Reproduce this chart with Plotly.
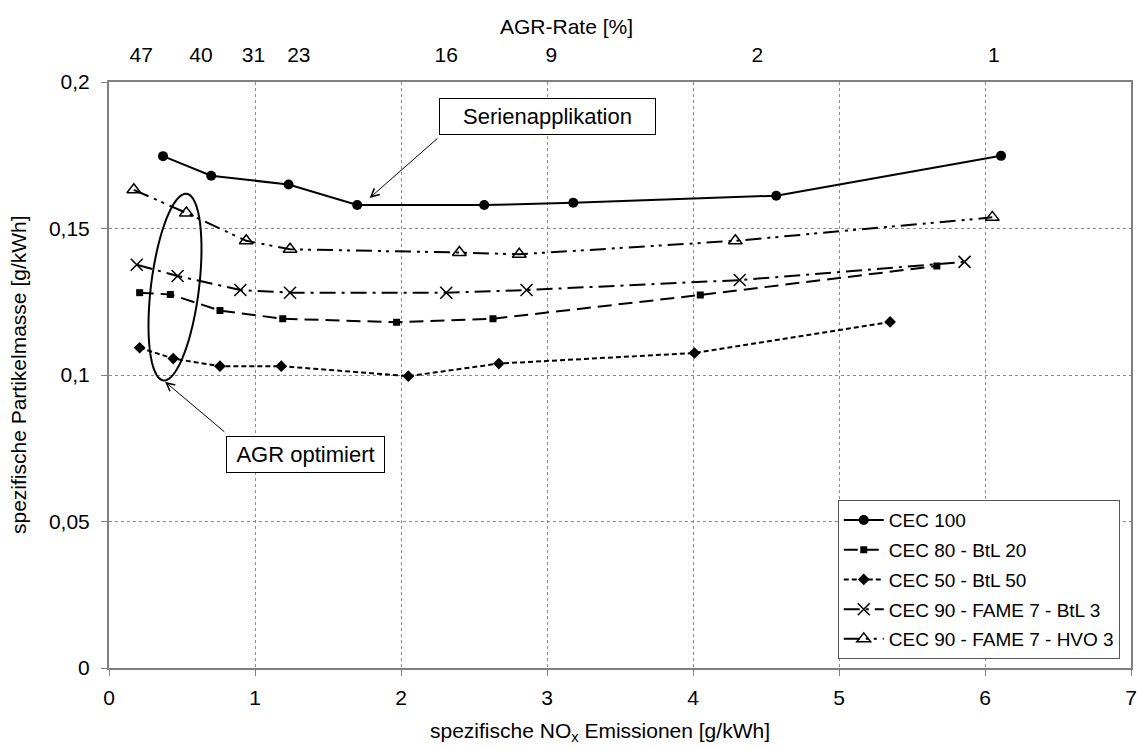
import numpy as np
import plotly.graph_objects as go

# ---- data ----
cec100_x = [0.37, 0.70, 1.23, 1.70, 2.57, 3.18, 4.57, 6.11]
cec100_y = [0.1747, 0.1680, 0.1650, 0.1580, 0.1580, 0.1588, 0.1612, 0.1748]

btl20_x = [0.21, 0.42, 0.76, 1.19, 1.97, 2.63, 4.05, 5.67]
btl20_y = [0.1281, 0.1275, 0.1220, 0.1192, 0.1180, 0.1192, 0.1273, 0.1372]

btl50_x = [0.21, 0.44, 0.76, 1.18, 2.05, 2.67, 4.01, 5.35]
btl50_y = [0.1093, 0.1056, 0.1030, 0.1030, 0.0996, 0.1039, 0.1075, 0.1181]

btl3_x = [0.19, 0.47, 0.90, 1.24, 2.31, 2.86, 4.32, 5.86]
btl3_y = [0.1376, 0.1338, 0.1290, 0.1281, 0.1281, 0.1290, 0.1324, 0.1386]

hvo_x = [0.17, 0.53, 0.94, 1.24, 2.40, 2.81, 4.29, 6.05]
hvo_y = [0.1632, 0.1553, 0.1458, 0.1429, 0.1418, 0.1412, 0.1458, 0.1538]

agr_pos = [0.22, 0.63, 0.99, 1.30, 2.31, 3.03, 4.44, 6.06]
agr_labels = ["47", "40", "31", "23", "16", "9", "2", "1"]

y_ticks = [0, 0.05, 0.1, 0.15, 0.2]
y_ticktext = ["0", "0,05", "0,1", "0,15", "0,2"]
x_ticks = [0, 1, 2, 3, 4, 5, 6, 7]

FONT = "Liberation Sans, Arial, sans-serif"

fig = go.Figure()

series = [
    ("CEC 100", cec100_x, cec100_y, "solid", dict(symbol="circle", size=10, color="black")),
    ("CEC 80 - BtL 20", btl20_x, btl20_y, "14px,7px", dict(symbol="square", size=7, color="black")),
    ("CEC 50 - BtL 50", btl50_x, btl50_y, "5px,3px", dict(symbol="diamond", size=9, color="black")),
    ("CEC 90 - FAME 7 - BtL 3", btl3_x, btl3_y, "16px,6px,3px,6px",
     dict(symbol="x-thin", size=12, color="black", line=dict(width=1.5, color="black"))),
    ("CEC 90 - FAME 7 - HVO 3", hvo_x, hvo_y, "16px,6px,3px,5px,3px,6px",
     dict(symbol="triangle-up-open", size=12, color="black", line=dict(width=1.5, color="black"))),
]
for i, (name, xs, ys, dash, mk) in enumerate(series):
    fig.add_trace(go.Scatter(
        x=xs, y=ys, name=name, mode="lines+markers",
        line=dict(color="black", width=2, dash=dash),
        marker=mk, legendgroup=f"g{i}",
    ))

# dummy trace for top axis
fig.add_trace(go.Scatter(x=agr_pos, y=[None] * len(agr_pos), xaxis="x2", yaxis="y",
                         showlegend=False, hoverinfo="skip", mode="markers"))

# ellipse (annotation shape) in data coordinates
px_per_x = 146.0
px_per_y = 2930.0
cx, cy = 0.452, 0.1300
a, b = 94.0, 24.0
th = np.deg2rad(7.1)
t = np.linspace(0, 2 * np.pi, 90)
ux, uy = np.sin(th), np.cos(th)      # major axis direction (up-right), pixel units, y up
vx, vy = np.cos(th), -np.sin(th)     # minor axis direction
ex = cx + (a * np.cos(t) * ux + b * np.sin(t) * vx) / px_per_x
ey = cy + (a * np.cos(t) * uy + b * np.sin(t) * vy) / px_per_y
path = "M " + " L ".join(f"{xx:.4f},{yy:.5f}" for xx, yy in zip(ex, ey)) + " Z"
fig.add_shape(type="path", path=path, xref="x", yref="y",
              line=dict(color="black", width=2))

annos = [
    # text boxes
    dict(x=3.00, y=0.1882, xref="x", yref="y", text="Serienapplikation", showarrow=False,
         font=dict(size=22, color="black", family=FONT), bgcolor="white",
         bordercolor="black", borderwidth=1, borderpad=5, width=205),
    dict(x=1.345, y=0.0727, xref="x", yref="y", text="AGR optimiert", showarrow=False,
         font=dict(size=22, color="black", family=FONT), bgcolor="white",
         bordercolor="black", borderwidth=1, borderpad=5, width=147),
    # arrows
    dict(x=1.785, y=0.1604, ax=2.26, ay=0.1812, xref="x", yref="y", axref="x", ayref="y",
         text="", showarrow=True, arrowhead=5, arrowsize=1.6, arrowwidth=1, arrowcolor="black"),
    dict(x=0.384, y=0.0977, ax=0.80, ay=0.0802, xref="x", yref="y", axref="x", ayref="y",
         text="", showarrow=True, arrowhead=5, arrowsize=1.6, arrowwidth=1, arrowcolor="black"),
    # axis titles
    dict(x=0.448, y=1.094, xref="paper", yref="paper", text="AGR-Rate [%]", showarrow=False,
         font=dict(size=21, color="black", family=FONT), xanchor="center", yanchor="middle"),
    dict(x=0.48, y=-0.110, xref="paper", yref="paper",
         text="spezifische NO<sub>x</sub> Emissionen [g/kWh]", showarrow=False,
         font=dict(size=21, color="black", family=FONT), xanchor="center", yanchor="middle"),
    dict(x=-0.089, y=0.5, xref="paper", yref="paper", text="spezifische Partikelmasse [g/kWh]",
         showarrow=False, textangle=-90,
         font=dict(size=21, color="black", family=FONT), xanchor="center", yanchor="middle"),
]

fig.update_layout(
    width=1137, height=749,
    margin=dict(l=109, r=6, t=82, b=81, autoexpand=False),
    paper_bgcolor="white", plot_bgcolor="white",
    font=dict(family=FONT, size=21, color="black"),
    separators=", ",
    xaxis=dict(range=[0, 7], tickvals=x_ticks, showgrid=True, gridcolor="#8a8a8a",
               griddash="dot", gridwidth=1, showline=True, linecolor="#808080", linewidth=2,
               mirror=True, ticks="outside", ticklen=6, tickcolor="#808080",
               ticklabelstandoff=4, zeroline=False, tickfont=dict(size=21),
               ticklabeloverflow="allow", automargin=False),
    xaxis2=dict(range=[0, 7], overlaying="x", side="top", tickvals=agr_pos, ticktext=agr_labels,
                showgrid=False, ticks="", showline=False, zeroline=False,
                tickfont=dict(size=21), ticklabelstandoff=15, automargin=False),
    yaxis=dict(range=[0, 0.2], tickvals=y_ticks, ticktext=y_ticktext, showgrid=True,
               gridcolor="#8a8a8a", griddash="dot", gridwidth=1, showline=True,
               linecolor="#808080", linewidth=2, mirror=True, ticks="outside", ticklen=6,
               tickcolor="#808080", ticklabelstandoff=7, zeroline=False, tickfont=dict(size=21),
               automargin=False),
    legend=dict(x=0.989, y=0.015, xanchor="right", yanchor="bottom",
                bgcolor="white", bordercolor="#555555", borderwidth=1,
                font=dict(size=19, color="black", family=FONT),
                tracegroupgap=2, itemwidth=40),
    annotations=annos,
    showlegend=True,
)

fig.write_html("out.html", config={"displayModeBar": False},
               post_script="document.body.style.margin='0px';document.body.style.overflow='hidden';")
